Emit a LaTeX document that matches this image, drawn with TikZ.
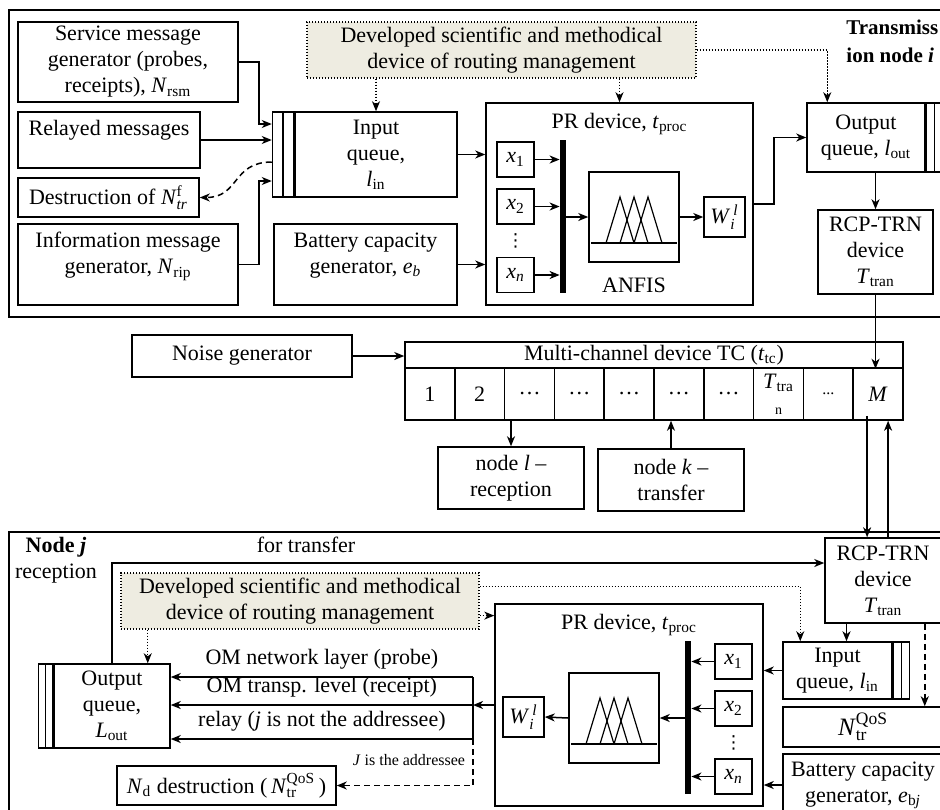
\documentclass[tikz,border=0pt]{standalone}
\usepackage{fontspec}
\setmainfont{Liberation Serif}
\newfontfamily\symfont{DejaVu Sans}
\usepackage{amsmath}
\usepackage{tikz}
\usetikzlibrary{arrows.meta,calc}

\definecolor{devfill}{RGB}{238,236,225}

\newcommand{\vsub}[2]{\textit{#1}\textsubscript{#2}}
\newcommand{\Ntrf}{\textit{N}$^{\text{f}}_{\text{\itshape tr}}$}
\newcommand{\NtrQoS}{\textit{N}$^{\text{QoS}}_{\text{tr}}$}
\newcommand{\Wil}{\textit{W}$^{\,\text{\itshape l}}_{\text{\itshape i}}$}
\newcommand{\smdots}{{\footnotesize...}}
\newcommand{\ttran}{\vsub{T}{tra}\\{\scriptsize n}}

\tikzset{
  >={Stealth[length=5pt,width=4pt,inset=1.5pt]},
  box/.style={draw, line width=0.75pt, inner sep=1.5pt, align=center},
  topbox/.style={box, text depth=#1},
  strip/.style={draw, line width=0.75pt, inner sep=0pt,
    path picture={\draw[line width=0.75pt] (path picture bounding box.north) -- (path picture bounding box.south);}},
  xbox/.style={box, minimum width=18.5pt, minimum height=17.5pt},
  vdts/.style={inner sep=0pt, font=\symfont\fontsize{9}{9}\selectfont},
  bar/.style={fill=black, inner sep=0pt, minimum width=3pt, minimum height=76.5pt},
  devbox/.style={box, fill=devfill, line width=0.6pt, dash pattern=on 0.6pt off 0.9pt, minimum height=28pt},
  cell/.style={box, minimum width=24.9pt, minimum height=26pt, inner sep=0pt},
  ln/.style={line width=0.75pt},
  arr/.style={->, line width=0.75pt},
  dotarr/.style={->, line width=0.6pt, dash pattern=on 0.6pt off 0.9pt},
  dasharr/.style={->, line width=0.75pt, dash pattern=on 3pt off 2pt},
  frm/.style={line width=0.9pt}
}

\begin{document}
\begin{tikzpicture}[x=0.5pt, y=-0.5pt, font=\fontsize{11}{13}\selectfont]
    \useasboundingbox (0,0) rectangle (940,809);
    \clip (0,0) rectangle (940,809);

    % frames
    \draw[frm] (9,10) rectangle (960,317);
    \draw[frm] (9,532) rectangle (960,830);

    % transmission node i
    \node[box, minimum width=110pt, minimum height=40pt] (srvgen) at (128,62)
        {Service message\\generator (probes,\\receipts), \vsub{N}{rsm}};
    \node[topbox=12pt, minimum width=91pt, minimum height=28pt] (relay) at (109,140)
        {Relayed messages};
    \node[box, minimum width=90.5pt, minimum height=19.5pt] (destr) at (108.5,197.5)
        {Destruction of \Ntrf};
    \node[topbox=11.5pt, minimum width=110pt, minimum height=40.5pt] (infgen) at (128,264.5)
        {Information message\\generator, \vsub{N}{rip}};
    \node[box, minimum width=81pt, minimum height=42.5pt] (inq) at (376,154.5)
        {Input\\queue,\\\vsub{l}{in}};
    \node[strip, minimum width=10.5pt, minimum height=42.5pt, anchor=east] (inqs) at (inq.west) {};
    \node[topbox=11.5pt, minimum width=91.5pt, minimum height=40.5pt] (bat) at (365.5,264.5)
        {Battery capacity\\generator, \vsub{e}{\textit{b}}};
    \node[devbox, minimum width=194.5pt] (dev) at (501.5,50)
        {Developed scientific and methodical\\device of routing management};

    \node[box, minimum width=133.5pt, minimum height=101pt] (pr) at (619.5,204) {};
    \node[anchor=north] (prttl) at ([yshift=-2pt]pr.north) {PR device, \vsub{t}{proc}};
    \node[xbox] (x1) at (515.5,159.5) {\textit{x}\textsubscript{1}};
    \node[xbox] (x2) at (515.5,206.5) {\textit{x}\textsubscript{2}};
    \node[vdts] (vd) at (515.5,241) {⋮};
    \node[xbox] (xn) at (515.5,275) {\textit{x}\textsubscript{\textit{n}}};
    \node[bar] (bar) at (563,216.5) {};
    \node[box, minimum width=45pt, minimum height=45pt] (anfis) at (634,217) {};
    \node (anfislbl) at (634,285) {ANFIS};
    \node[box, minimum width=20.5pt, minimum height=20pt] (w) at (724.5,217) {\Wil};

    \node[box, minimum width=59pt, minimum height=34.5pt] (outq) at (866,137.5)
        {Output\\queue, \vsub{l}{out}};
    \node[strip, minimum width=8pt, minimum height=34.5pt, anchor=west] (outqs) at (outq.east) {};
    \node[box, minimum width=57.5pt, minimum height=42pt] (rcp) at (875.5,252)
        {RCP-TRN\\device\\\vsub{T}{tran}};
    \node[align=left, anchor=west, inner sep=0pt, font=\fontsize{10.5}{14}\selectfont] (nodei) at (846,41)
        {\textbf{Transmiss}\\\textbf{ion node \textit{i}}};

    % channel
    \node[box, minimum width=110pt, minimum height=21pt] (noise) at (242,356) {Noise generator};
    \node[box, minimum width=249pt, minimum height=13pt, inner sep=0pt] (tc) at (654,355)
        {Multi-channel device TC (\vsub{t}{tc})};
    \foreach \lbl [count=\i] in {1,2,\dots,\dots,\dots,\dots,\dots,\ttran,\smdots,\textit{M}}
        \node[cell] (c\i) at ({405+49.8*(\i-0.5)},394) {\lbl};
    \node[box, minimum width=73pt, minimum height=31pt] (nodel) at (511,478)
        {node \textit{l} --\\reception};
    \node[box, minimum width=73pt, minimum height=31pt] (nodek) at (671,480)
        {node \textit{k} --\\transfer};

    % node j
    \node[align=center] (nodej) at (56,560) {\textbf{Node \textit{j}}\\reception};
    \node (fortr) at (306,545) {for transfer};
    \node[devbox, minimum width=179pt] (bdev) at (300,601)
        {Developed scientific and methodical\\device of routing management};
    \node[box, minimum width=58pt, minimum height=42pt] (boutq) at (112,706)
        {Output\\queue,\\\vsub{L}{out}};
    \node[strip, minimum width=7pt, minimum height=42pt, anchor=east] (boutqs) at (boutq.west) {};
    \node[box, minimum width=58pt, minimum height=42.5pt] (brcp) at (883,580.5)
        {RCP-TRN\\device\\\vsub{T}{tran}};
    \node[box, minimum width=54.5pt, minimum height=28.5pt] (binq) at (837.5,670.5)
        {Input\\queue, \vsub{l}{in}};
    \node[strip, minimum width=8pt, minimum height=28.5pt, anchor=west] (binqs) at (binq.east) {};
    \node[box, minimum width=80pt, minimum height=20pt, inner sep=0pt, font=\fontsize{12.5}{14}\selectfont]
        (nqos) at (863,727) {\NtrQoS};
    \node[box, minimum width=80pt, minimum height=31pt] (bbat) at (863,785)
        {Battery capacity\\generator, \vsub{e}{b\textit{j}}};

    \node[box, minimum width=134pt, minimum height=101pt] (bpr) at (629,705) {};
    \node[anchor=north] (bprttl) at ([yshift=-2pt]bpr.north) {PR device, \vsub{t}{proc}};
    \node[xbox] (bx1) at (733.5,661.5) {\textit{x}\textsubscript{1}};
    \node[xbox] (bx2) at (733.5,708.5) {\textit{x}\textsubscript{2}};
    \node[vdts] (bvd) at (733.5,743) {⋮};
    \node[xbox] (bxn) at (733.5,776.5) {\textit{x}\textsubscript{\textit{n}}};
    \node[bar] (bbar) at (688,717.5) {};
    \node[box, minimum width=45pt, minimum height=45pt] (banfis) at (614,718) {};
    \node[box, minimum width=20.5pt, minimum height=20pt] (bw) at (523.5,717) {\Wil};
    \node[box, minimum width=109.5pt, minimum height=19.5pt] (nd) at (226.5,785.5)
        {\vsub{N}{d} destruction (\,\NtrQoS\,)};
    \node[font=\fontsize{8}{9}\selectfont] (jadr) at (409,760) {\textit{J} is the addressee};
    \coordinate (rtop) at (473,677);
    \coordinate (rbot) at (473,739);

    % membership functions
    \foreach \a in {anfis,banfis} {
        \begin{scope}[shift={(\a.center)}]
            \draw[line width=0.6pt] (-43,26) -- (43,26);
            \foreach \p in {-14,0,14}
                \draw[line width=0.6pt] (\p-14,26) -- (\p,-20) -- (\p+14,26);
        \end{scope}
    }

    %edges
    \draw[arr] (srvgen.east) -- ++(20,0) |- ([yshift=15.25pt]inqs.west);
    \draw[arr] (relay.east) -- (relay.east -| inqs.west);
    \draw[dasharr] ([yshift=-3.75pt]inqs.west) .. controls +(-40,0) and +(40,0) .. (destr.east);
    \draw[arr] (infgen.east) -- ++(20,0) |- ([yshift=-13.25pt]inqs.west);
    \draw[arr] (inq.east) -- (inq.east -| pr.west);
    \draw[arr] (bat.east) -- (bat.east -| pr.west);
    \foreach \x in {x1,x2,xn} \draw[arr] (\x.east) -- (\x.east -| bar.west);
    \draw[arr] (bar.east |- anfis.west) -- (anfis.west);
    \draw[arr] (anfis.east) -- (w.west);
    \draw[arr] (pr.east) -- ++(20,0) |- (outq.west);
    \draw[dotarr] (dev.south -| inq.north) -- (inq.north);
    \draw[dotarr] (dev.south -| pr.north) -- (pr.north);
    \draw[dotarr] (dev.east) -| ([xshift=10.5pt]outq.north west);
    \draw[arr] (rcp.north |- outq.south) -- (rcp.north);
    \draw[arr] (rcp.south) -- (rcp.south |- tc.south);

    \draw[arr] (noise.east) -- (noise.east -| tc.west);
    \draw[arr] (nodel.north |- c3.south) -- (nodel.north);
    \draw[arr] (nodek.north) -- (nodek.north |- c6.south);
    \coordinate (mdn) at ([xshift=-5.5pt,yshift=2.5pt]c10.south);
    \coordinate (mup) at ([xshift=5pt]c10.south);
    \draw[arr] (mdn) -- (mdn |- brcp.north);
    \draw[arr] (mup |- brcp.north) -- (mup);

    \draw[arr] (boutq.north) |- ([yshift=8.75pt]brcp.west);
    \coordinate (bdin) at ([xshift=-11.5pt]boutq.north east);
    \draw[dotarr] (bdev.south -| bdin) -- (bdin);
    \coordinate (bdo) at ([yshift=7pt]bdev.south east);
    \draw[dotarr] (bdo) -- (bdo -| bpr.west);
    \draw[dotarr] ([yshift=-7pt]bdev.north east) -| ([xshift=9pt]binq.north west);
    \coordinate (bq) at ([xshift=4.5pt]binq.north);
    \draw[arr] (bq |- brcp.south) -- (bq);
    \coordinate (qs) at ([xshift=-9.5pt]nqos.north east);
    \draw[dasharr] (qs |- brcp.south) -- (qs);
    \draw[arr] (binq.west) -- (binq.west -| bpr.east);
    \draw[arr] (bbat.west) -- (bbat.west -| bpr.east);
    \foreach \x in {bx1,bx2,bxn} \draw[arr] (\x.west) -- (\x.west -| bbar.east);
    \draw[arr] (bbar.west |- banfis.east) -- (banfis.east);
    \draw[arr] (banfis.west) -- (bw.east);
    \draw[arr] (bpr.west) -- (bpr.west -| rtop);
    \draw[ln] (rtop) -- (rbot);
    \draw[arr] (rtop) -- node[above] (omnet) {OM network layer (probe)} (rtop -| boutq.east);
    \draw[arr] (bpr.west -| rtop) -- node[above] (omtr) {OM transp. level (receipt)} (bpr.west -| boutq.east);
    \draw[arr] (rbot) -- node[above] (omrel) {relay (\textit{j} is not the addressee)} (rbot -| boutq.east);
    \draw[dasharr] (rbot) |- (nd.east);
\end{tikzpicture}
\end{document}
